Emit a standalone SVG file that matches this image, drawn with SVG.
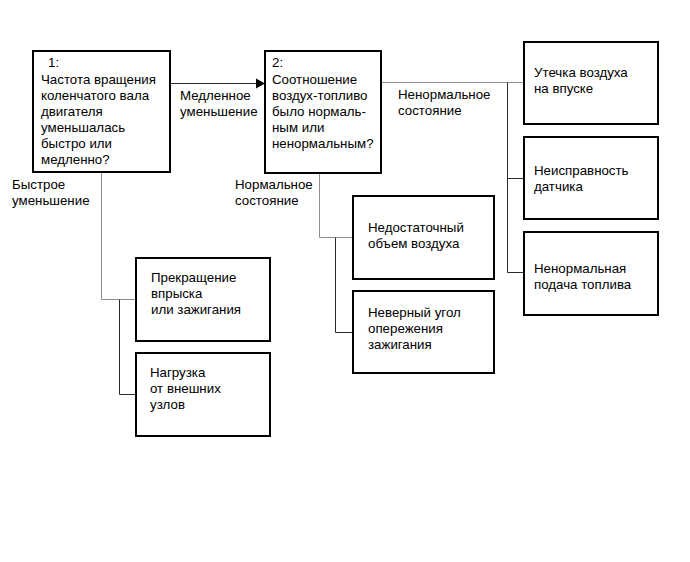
<svg xmlns="http://www.w3.org/2000/svg" width="690" height="562" viewBox="0 0 690 562">
<style>
.box{fill:#fff;stroke:#000;stroke-width:2}
.t{font-family:"Liberation Sans",Arial,sans-serif;font-size:13.3px;fill:#000}
.c{fill:none;stroke:#8c8c8c;stroke-width:1}
.d{fill:none;stroke:#2a2a2a;stroke-width:1}
</style>
<rect width="690" height="562" fill="#fff"/>
<g id="connectors">
<line class="d" x1="170" y1="83.5" x2="257" y2="83.5"/>
<polygon points="256,78.5 265,83.5 256,88.5" fill="#000"/>
<polyline class="c" points="101.5,172 101.5,299.5 136,299.5"/>
<polyline class="d" points="119.5,299.5 119.5,394.5 136,394.5"/>
<polyline class="c" points="319.5,173 319.5,237.5 353,237.5"/>
<polyline class="d" points="335.5,237.5 335.5,332.5 353,332.5"/>
<line class="c" x1="381" y1="82.5" x2="524" y2="82.5"/>
<polyline class="d" points="507.5,82.5 507.5,272.5 524,272.5"/>
<line class="d" x1="507.5" y1="178.5" x2="524" y2="178.5"/>
<text class="t" x="180" y="100">Медленное</text>
<text class="t" x="180" y="116">уменьшение</text>
<text class="t" x="12" y="189">Быстрое</text>
<text class="t" x="12" y="205">уменьшение</text>
<text class="t" x="235" y="189">Нормальное</text>
<text class="t" x="235" y="205">состояние</text>
<text class="t" x="398" y="99">Ненормальное</text>
<text class="t" x="398" y="115">состояние</text>
</g>
<g id="node1">
<rect class="box" x="33" y="51" width="137" height="121"/>
<text class="t" x="48" y="67">1:</text>
<text class="t" x="41" y="84">Частота вращения</text>
<text class="t" x="41" y="100">коленчатого вала</text>
<text class="t" x="41" y="116">двигателя</text>
<text class="t" x="41" y="132">уменьшалась</text>
<text class="t" x="41" y="148">быстро или</text>
<text class="t" x="41" y="164">медленно?</text>
</g>
<g id="node2">
<rect class="box" x="265" y="51" width="116" height="122"/>
<text class="t" x="272" y="67">2:</text>
<text class="t" x="272" y="84">Соотношение</text>
<text class="t" x="272" y="100">воздух-топливо</text>
<text class="t" x="272" y="116">было нормаль-</text>
<text class="t" x="272" y="132">ным или</text>
<text class="t" x="272" y="148">ненормальным?</text>
</g>
<g id="nodeA">
<rect class="box" x="524" y="42" width="134" height="82"/>
<text class="t" x="534" y="77">Утечка воздуха</text>
<text class="t" x="534" y="93">на впуске</text>
</g>
<g id="nodeB">
<rect class="box" x="524" y="137" width="134" height="82"/>
<text class="t" x="534" y="175">Неисправность</text>
<text class="t" x="534" y="191">датчика</text>
</g>
<g id="nodeC">
<rect class="box" x="524" y="232" width="134" height="83"/>
<text class="t" x="534" y="273">Ненормальная</text>
<text class="t" x="534" y="289">подача топлива</text>
</g>
<g id="nodeD">
<rect class="box" x="136" y="258" width="134" height="83"/>
<text class="t" x="151" y="282">Прекращение</text>
<text class="t" x="151" y="298">впрыска</text>
<text class="t" x="151" y="314">или зажигания</text>
</g>
<g id="nodeE">
<rect class="box" x="136" y="353" width="134" height="83"/>
<text class="t" x="150" y="377">Нагрузка</text>
<text class="t" x="150" y="393">от внешних</text>
<text class="t" x="150" y="409">узлов</text>
</g>
<g id="nodeF">
<rect class="box" x="353" y="196" width="141" height="83"/>
<text class="t" x="368" y="232">Недостаточный</text>
<text class="t" x="368" y="248">объем воздуха</text>
</g>
<g id="nodeG">
<rect class="box" x="353" y="291" width="141" height="82"/>
<text class="t" x="368" y="317">Неверный угол</text>
<text class="t" x="368" y="333">опережения</text>
<text class="t" x="368" y="349">зажигания</text>
</g>
</svg>
